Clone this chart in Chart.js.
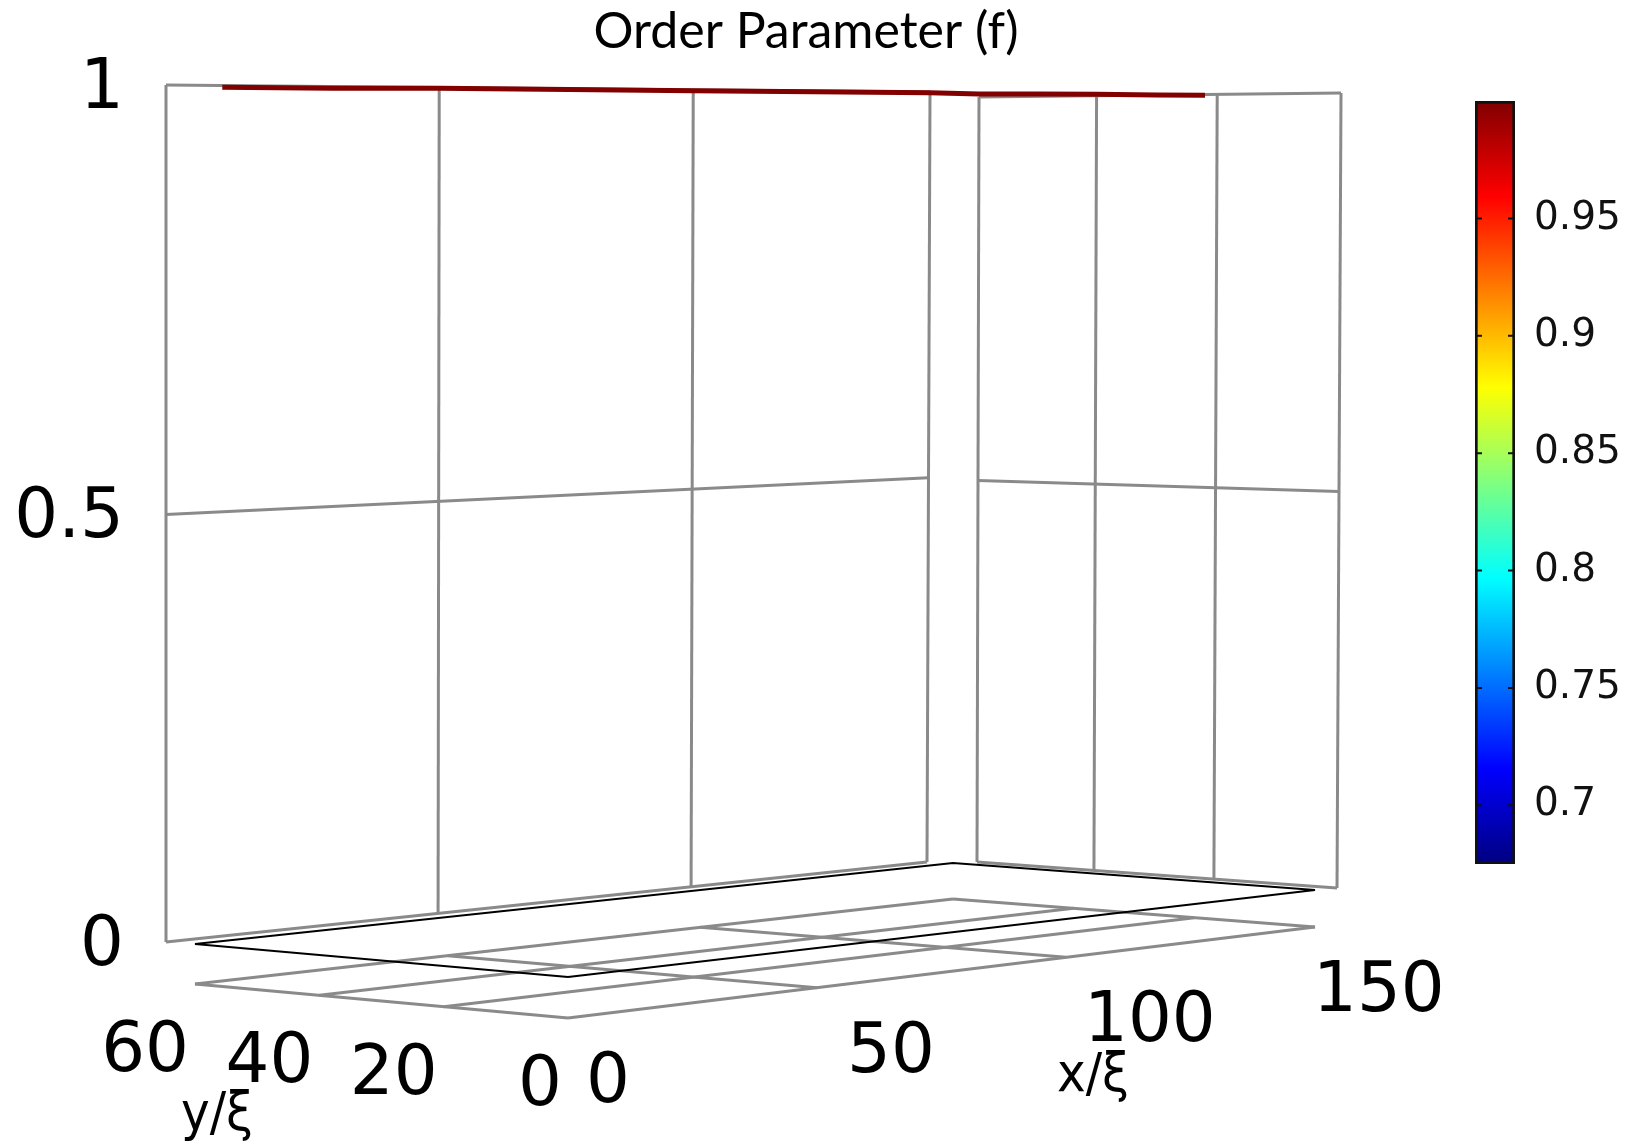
<!DOCTYPE html>
<html lang="en">
<head>
<meta charset="UTF-8">
<title>Order Parameter (f)</title>
<script src="https://cdn.jsdelivr.net/npm/chart.js"></script>
<style>
  body { margin: 0; background: #fff; }
  .wrap { position: relative; width: 1635px; height: 1148px; }
  .wrap canvas { position: absolute; left: 0; top: 0; }
</style>
</head>
<body>
<div class="wrap">
  <canvas id="plot3d" width="1635" height="1148"></canvas>
  <canvas id="colorbar" width="1635" height="1148"></canvas>
</div>
<script>
// ---- data ----
const xTicks = [0, 50, 100, 150];
const yTicks = [0, 20, 40, 60];
const zTicks = [0, 0.5, 1];
const xTickLabels = ['0', '50', '100', '150'];
const yTickLabels = ['0', '20', '40', '60'];
const zTickLabels = ['0', '0.5', '1'];

// order parameter surface, seen edge-on along the back edges (f is ~1 everywhere)
const surfaceX = [10, 30, 50, 75, 100, 125, 150];
const surfaceFx = [0.998, 0.998, 0.999, 0.999, 0.999, 0.999, 0.999];
const surfaceY = [60, 50, 40, 30, 22];
const surfaceFy = [1.004, 1.003, 1.002, 1.0, 0.999];

const cbMin = 0.675;
const cbMax = 1.0;
const cbTicks = [0.7, 0.75, 0.8, 0.85, 0.9, 0.95];

// ---- view (screen corners of each panel of the 3d box) ----
const W = 1635, H = 1148;
const xMax = xTicks[xTicks.length - 1], yMax = yTicks[yTicks.length - 1];
const xLabelNudge = [0, 12, 0, -20];

function homography(p0, p1, p2, p3) {
    const dx1 = p1[0] - p2[0], dx2 = p3[0] - p2[0], dx3 = p0[0] - p1[0] + p2[0] - p3[0];
    const dy1 = p1[1] - p2[1], dy2 = p3[1] - p2[1], dy3 = p0[1] - p1[1] + p2[1] - p3[1];
    const den = dx1 * dy2 - dy1 * dx2;
    const g = (dx3 * dy2 - dy3 * dx2) / den, h = (dx1 * dy3 - dy1 * dx3) / den;
    const a = p1[0] - p0[0] + g * p1[0], b = p3[0] - p0[0] + h * p3[0], c = p0[0];
    const d = p1[1] - p0[1] + g * p1[1], e = p3[1] - p0[1] + h * p3[1], f = p0[1];
    return (u, v) => {
        const w = g * u + h * v + 1;
        return { x: (a * u + b * v + c) / w, y: (d * u + e * v + f) / w };
    };
}
function bilinear(p0, p1, p2, p3) {
    return (u, v) => ({
        x: (1 - u) * (1 - v) * p0[0] + u * (1 - v) * p1[0] + u * v * p2[0] + (1 - u) * v * p3[0],
        y: (1 - u) * (1 - v) * p0[1] + u * (1 - v) * p1[1] + u * v * p2[1] + (1 - u) * v * p3[1]
    });
}

const backWall = homography([166, 942], [927, 862], [930, 92], [166, 85]);   // y = yMax plane, (x, z)
const sideWall = homography([977, 862], [1337, 888], [1341, 93], [979, 97]); // x = xMax plane, (y, z)
const floorBox = bilinear([568, 977], [1315, 890], [953, 863], [195, 944]);  // z = 0 domain outline
const floorGrid = bilinear([568, 1018], [1315, 927], [953, 899], [195, 984]); // shadow grid

const onBack = (x, z) => backWall(x / xMax, z);
const onSide = (y, z) => sideWall((yMax - y) / yMax, z);
const onFloor = (x, y) => floorBox(x / xMax, y / yMax);
const onGrid = (x, y) => floorGrid(x / xMax, y / yMax);

// jet colormap
function jet(t) {
    const c = v => Math.round(255 * Math.max(0, Math.min(1, v)));
    return `rgb(${c(1.5 - Math.abs(4 * t - 3))},${c(1.5 - Math.abs(4 * t - 2))},${c(1.5 - Math.abs(4 * t - 1))})`;
}
const jetStops = [[0, '#000080'], [0.125, '#0000ff'], [0.375, '#00ffff'], [0.625, '#ffff00'], [0.875, '#ff0000'], [1, '#800000']];

// ---- build line datasets ----
const GRAY = '#8a8a8a';
const datasets = [];
function addLine(points, color, width) {
    // later lines go on top: chart.js paints lower "order" last
    datasets.push({ data: points, showLine: true, borderColor: color, borderWidth: width,
                    pointRadius: 0, tension: 0, fill: false, order: -datasets.length });
}

xTicks.forEach(x => addLine([onBack(x, 0), onBack(x, 1)], GRAY, 3));
zTicks.forEach(z => addLine([onBack(0, z), onBack(xMax, z)], GRAY, 3));
yTicks.forEach(y => addLine([onSide(y, 0), onSide(y, 1)], GRAY, 3));
zTicks.forEach(z => addLine([onSide(yMax, z), onSide(0, z)], GRAY, 3));

xTicks.forEach(x => addLine([onGrid(x, 0), onGrid(x, yMax)], GRAY, 3));
yTicks.forEach(y => addLine([onGrid(0, y), onGrid(xMax, y)], GRAY, 3));

addLine([onFloor(0, 0), onFloor(xMax, 0), onFloor(xMax, yMax), onFloor(0, yMax), onFloor(0, 0)], '#000', 2);

const surfPts = surfaceX.map((x, i) => onBack(x, surfaceFx[i]))
    .concat(surfaceY.map((y, i) => onSide(y, surfaceFy[i])));
const fAll = surfaceFx.concat(surfaceFy).map(v => Math.min(v, 1));
const fMean = fAll.reduce((s, v) => s + v, 0) / fAll.length;
addLine(surfPts, jet((fMean - cbMin) / (cbMax - cbMin)), 5);

// ---- text ----
const textPlugin = {
    id: 'axisText',
    afterDraw(chart) {
        const ctx = chart.ctx, sx = chart.scales.x, sy = chart.scales.y;
        const px = p => ({ x: sx.getPixelForValue(p.x), y: sy.getPixelForValue(p.y) });
        ctx.save();
        ctx.fillStyle = '#000';
        ctx.textBaseline = 'middle';

        ctx.font = '69px "DejaVu Sans"';
        ctx.textAlign = 'right';
        zTicks.forEach((z, i) => { const p = px(onBack(0, z)); ctx.fillText(zTickLabels[i], p.x - 42, p.y + 5); });
        yTicks.forEach((y, i) => { const p = px(onGrid(0, y)); ctx.fillText(yTickLabels[i], p.x - 6, p.y + 69); });
        ctx.textAlign = 'left';
        xTicks.forEach((x, i) => { const p = px(onGrid(x, 0)); ctx.fillText(xTickLabels[i], p.x + 18 + xLabelNudge[i], p.y + 66); });

        ctx.textAlign = 'center';
        ctx.font = '54px "DejaVu Sans Condensed", "DejaVu Sans"';
        ctx.fillText('y/ξ', 217, 1116);
        ctx.fillText('x/ξ', 1093, 1077);

        ctx.font = '50px Lato, "Open Sans", sans-serif';
        ctx.fillText('Order Parameter (f)', 806, 32);
        ctx.restore();
    }
};

new Chart(document.getElementById('plot3d'), {
    type: 'scatter',
    data: { datasets: datasets },
    options: {
        responsive: false,
        animation: false,
        layout: { padding: 0 },
        plugins: { legend: { display: false }, tooltip: { enabled: false } },
        scales: {
            x: { type: 'linear', display: false, min: 0, max: W },
            y: { type: 'linear', display: false, min: 0, max: H, reverse: true }
        }
    },
    plugins: [textPlugin]
});

// ---- colorbar ----
const cbTickMarks = {
    id: 'cbTickMarks',
    afterDatasetsDraw(chart) {
        const a = chart.chartArea, s = chart.scales.y, ctx = chart.ctx;
        ctx.save();
        ctx.strokeStyle = '#111';
        ctx.lineWidth = 2;
        cbTicks.forEach(v => {
            const y = s.getPixelForValue(v);
            ctx.beginPath();
            ctx.moveTo(a.left, y); ctx.lineTo(a.left + 7, y);
            ctx.moveTo(a.right - 7, y); ctx.lineTo(a.right, y);
            ctx.stroke();
        });
        ctx.restore();
    }
};

new Chart(document.getElementById('colorbar'), {
    type: 'bar',
    data: {
        labels: ['f'],
        datasets: [{
            data: [[cbMin, cbMax]],
            backgroundColor: context => {
                const a = context.chart.chartArea;
                if (!a) return '#888';
                const g = context.chart.ctx.createLinearGradient(0, a.bottom, 0, a.top);
                jetStops.forEach(s => g.addColorStop(s[0], s[1]));
                return g;
            },
            borderColor: '#111',
            borderWidth: 3,
            borderSkipped: false,
            barPercentage: 1,
            categoryPercentage: 1
        }]
    },
    options: {
        responsive: false,
        animation: false,
        layout: { padding: { left: 1475, top: 101, bottom: 284, right: 0 } },
        plugins: { legend: { display: false }, tooltip: { enabled: false } },
        scales: {
            x: { display: false },
            y: {
                position: 'right',
                min: cbMin,
                max: cbMax,
                grid: { display: false },
                border: { display: false },
                afterBuildTicks: s => { s.ticks = cbTicks.map(v => ({ value: v })); },
                afterFit: s => { s.width = 120; },
                ticks: { font: { family: 'DejaVu Sans', size: 39 }, color: '#111', padding: 11,
                         callback: v => String(v) }
            }
        }
    },
    plugins: [cbTickMarks]
});
</script>
</body>
</html>
